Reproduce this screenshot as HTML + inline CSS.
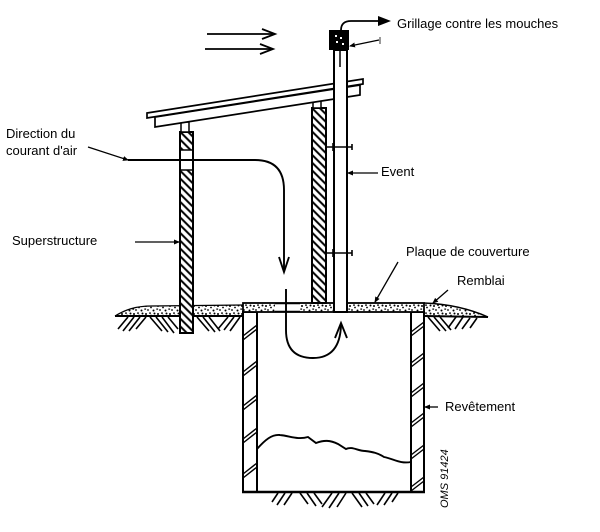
<!DOCTYPE html>
<html><head><meta charset="utf-8"><style>
html,body{margin:0;padding:0;background:#fff;}
svg{display:block;}
text{font-family:"Liberation Sans",Arial,sans-serif;font-size:13px;fill:#000;}
</style></head><body>
<svg width="600" height="532" viewBox="0 0 600 532" xmlns="http://www.w3.org/2000/svg">
<defs>
<pattern id="h" width="5.5" height="5.5" patternUnits="userSpaceOnUse" patternTransform="rotate(-45)">
<rect width="5.5" height="5.5" fill="#fff"/>
<line x1="1.2" y1="0" x2="1.2" y2="5.5" stroke="#000" stroke-width="2"/>
</pattern>
<pattern id="s" width="12" height="8" patternUnits="userSpaceOnUse">
<rect width="12" height="8" fill="#fff"/>
<circle cx="2" cy="2" r="1" fill="#000"/>
<circle cx="7" cy="3.5" r="0.9" fill="#000"/>
<circle cx="10.5" cy="1.5" r="1" fill="#000"/>
<circle cx="4" cy="6" r="0.9" fill="#000"/>
<circle cx="9.5" cy="6.5" r="1" fill="#000"/>
<rect x="5" y="0.5" width="2" height="1.2" fill="#000"/>
<rect x="0.3" y="4.5" width="1.8" height="1.2" fill="#000"/>
</pattern>
<marker id="ars" markerWidth="6" markerHeight="5" refX="5" refY="2.5" orient="auto" markerUnits="userSpaceOnUse">
<path d="M0,0 L6,2.5 L0,5 z" fill="#000"/>
</marker>
</defs>

<!-- wind arrows -->
<g stroke="#000" stroke-width="1.8" fill="none">
<line x1="207" y1="34" x2="275" y2="34"/>
<polyline points="262,29 275,34 262,39"/>
<line x1="205" y1="49" x2="273" y2="49"/>
<polyline points="260,44 273,49 260,54"/>
</g>

<!-- left remblai -->
<path d="M115,316 C125,310 135,306 152,306 L243,305 L243,316 Z" fill="url(#s)"/>
<path d="M115,316 C125,310 135,306 152,306 L243,305" fill="none" stroke="#000" stroke-width="1.2"/>
<!-- right remblai -->
<path d="M424,303 C450,304 470,309 488,317 L424,316 Z" fill="url(#s)"/>
<path d="M424,303 C450,304 470,309 488,317" fill="none" stroke="#000" stroke-width="1.4"/>

<!-- ground lines -->
<g stroke="#000" stroke-width="2" fill="none">
<line x1="115" y1="316" x2="243" y2="316"/>
<line x1="424" y1="316" x2="488" y2="317"/>
</g>
<!-- earth hatching -->
<g stroke="#000" stroke-width="1.6" fill="none">
<line x1="128" y1="317" x2="118" y2="329"/>
<line x1="134" y1="317" x2="123" y2="331"/>
<line x1="140" y1="317" x2="129" y2="331"/>
<line x1="146" y1="317" x2="136" y2="329"/>
<line x1="150" y1="317" x2="162" y2="331"/>
<line x1="156" y1="317" x2="168" y2="332"/>
<line x1="162" y1="317" x2="174" y2="333"/>
<line x1="168" y1="317" x2="178" y2="329"/>
<line x1="197" y1="317" x2="209" y2="331"/>
<line x1="203" y1="317" x2="215" y2="332"/>
<line x1="209" y1="317" x2="220" y2="331"/>
<line x1="228" y1="317" x2="218" y2="329"/>
<line x1="234" y1="317" x2="224" y2="330"/>
<line x1="240" y1="317" x2="230" y2="331"/>
<line x1="428" y1="317" x2="440" y2="331"/>
<line x1="434" y1="317" x2="446" y2="331"/>
<line x1="440" y1="317" x2="451" y2="330"/>
<line x1="456" y1="317" x2="448" y2="328"/>
<line x1="463" y1="317" x2="455" y2="329"/>
<line x1="470" y1="318" x2="462" y2="329"/>
<line x1="477" y1="318" x2="470" y2="328"/>
<line x1="278" y1="493" x2="272" y2="502"/>
<line x1="285" y1="493" x2="277" y2="505"/>
<line x1="292" y1="493" x2="284" y2="505"/>
<line x1="300" y1="493" x2="308" y2="504"/>
<line x1="307" y1="493" x2="316" y2="506"/>
<line x1="314" y1="493" x2="322" y2="504"/>
<line x1="332" y1="493" x2="322" y2="507"/>
<line x1="339" y1="493" x2="329" y2="508"/>
<line x1="346" y1="493" x2="337" y2="507"/>
<line x1="352" y1="493" x2="362" y2="507"/>
<line x1="359" y1="493" x2="368" y2="506"/>
<line x1="366" y1="493" x2="374" y2="504"/>
<line x1="385" y1="493" x2="377" y2="505"/>
<line x1="392" y1="493" x2="384" y2="505"/>
<line x1="398" y1="493" x2="392" y2="502"/>
</g>

<!-- pit lining -->
<rect x="243" y="312" width="14" height="180" fill="#fff" stroke="#000" stroke-width="2"/>
<rect x="411" y="312" width="13" height="180" fill="#fff" stroke="#000" stroke-width="2"/>
<line x1="242" y1="492" x2="425" y2="492" stroke="#000" stroke-width="2.4"/>
<g stroke="#000" stroke-width="1.4">
<line x1="243" y1="336" x2="257" y2="325"/><line x1="243" y1="340" x2="257" y2="329"/>
<line x1="243" y1="372" x2="257" y2="361"/><line x1="243" y1="376" x2="257" y2="365"/>
<line x1="243" y1="406" x2="257" y2="395"/><line x1="243" y1="410" x2="257" y2="399"/>
<line x1="243" y1="439" x2="257" y2="428"/><line x1="243" y1="443" x2="257" y2="432"/>
<line x1="243" y1="474" x2="257" y2="463"/><line x1="243" y1="478" x2="257" y2="467"/>
<line x1="411" y1="332" x2="424" y2="322"/><line x1="411" y1="336" x2="424" y2="326"/>
<line x1="411" y1="363" x2="424" y2="353"/><line x1="411" y1="367" x2="424" y2="357"/>
<line x1="411" y1="393" x2="424" y2="383"/><line x1="411" y1="397" x2="424" y2="387"/>
<line x1="411" y1="423" x2="424" y2="413"/><line x1="411" y1="427" x2="424" y2="417"/>
<line x1="411" y1="455" x2="424" y2="445"/><line x1="411" y1="459" x2="424" y2="449"/>
<line x1="411" y1="487" x2="424" y2="477"/><line x1="411" y1="491" x2="424" y2="481"/>
</g>

<!-- liquid surface -->
<path d="M257,449 C265,440 272,434 280,435 C290,436 298,440 308,437 L316,443 C324,440 330,440 338,444 L346,449 C352,446 358,451 365,451 C373,452 378,453 384,457 C394,459 400,464 411,462" fill="none" stroke="#000" stroke-width="1.9"/>

<!-- slab -->
<rect x="243" y="303" width="181" height="9" fill="url(#s)" stroke="#000" stroke-width="1.8"/>
<rect x="275" y="304" width="25" height="7" fill="#fff"/>
<line x1="275" y1="303.5" x2="300" y2="303.5" stroke="#000" stroke-width="1.4"/>
<line x1="275" y1="311.5" x2="300" y2="311.5" stroke="#000" stroke-width="1.4"/>

<!-- left wall -->
<rect x="180" y="132" width="13" height="201" fill="url(#h)" stroke="#000" stroke-width="2"/>
<rect x="181" y="150" width="11" height="20" fill="#fff"/>
<line x1="180" y1="150" x2="193" y2="150" stroke="#000" stroke-width="1.5"/>
<line x1="180" y1="170" x2="193" y2="170" stroke="#000" stroke-width="1.5"/>
<line x1="180" y1="150" x2="180" y2="170" stroke="#000" stroke-width="2"/>
<line x1="193" y1="150" x2="193" y2="170" stroke="#000" stroke-width="2"/>
<rect x="181" y="122" width="8" height="10" fill="#fff" stroke="#000" stroke-width="1.5"/>

<!-- right wall -->
<rect x="312" y="108" width="14" height="195" fill="url(#h)" stroke="#000" stroke-width="2"/>
<rect x="313" y="100" width="8" height="8" fill="#fff" stroke="#000" stroke-width="1.5"/>

<!-- roof -->
<polygon points="155,117 360,85 360,95 155,127" fill="#fff" stroke="#000" stroke-width="1.7"/>
<polygon points="147,113 363,79 363,84 147,118" fill="#fff" stroke="#000" stroke-width="1.7"/>

<!-- vent pipe -->
<rect x="334" y="50" width="13" height="262" fill="#fff" stroke="#000" stroke-width="2"/>
<line x1="340" y1="50" x2="340" y2="67" stroke="#000" stroke-width="1.5"/>
<rect x="329" y="30" width="20" height="20" fill="#000"/>
<g fill="#fff"><rect x="335" y="35" width="2" height="2"/><rect x="340" y="37" width="2" height="2"/><rect x="336" y="41" width="2" height="2"/><rect x="342" y="43" width="2" height="2"/></g>
<!-- brackets -->
<g stroke="#000" stroke-width="1.6">
<line x1="326" y1="147" x2="352" y2="147"/>
<line x1="333" y1="143" x2="333" y2="151"/>
<line x1="352" y1="144" x2="352" y2="150"/>
<line x1="326" y1="253" x2="352" y2="253"/>
<line x1="333" y1="249" x2="333" y2="257"/>
<line x1="352" y1="250" x2="352" y2="256"/>
</g>

<!-- airflow -->
<g stroke="#000" stroke-width="1.9" fill="none">
<path d="M128,160 L255,160 Q284,160 284,190 L284,271"/>
<polyline points="279,257 284,272 289,257"/>
<path d="M286,289 L286,330 Q286,358 313,358 Q340,358 341,325"/>
<polyline points="335,338 341,323 347,338"/>
</g>

<!-- grillage arrow -->
<path d="M341,30 Q341,21 351,21 L380,21" fill="none" stroke="#000" stroke-width="1.8"/>
<polygon points="378,16 391,21 378,26" fill="#000"/>
<line x1="379" y1="40" x2="350" y2="46" stroke="#000" stroke-width="1.2" marker-end="url(#ars)"/>
<line x1="380" y1="37" x2="380" y2="44" stroke="#000" stroke-width="0.8"/>

<!-- leaders -->
<g stroke="#000" stroke-width="1.3" fill="none">
<line x1="88" y1="147" x2="128" y2="160" marker-end="url(#ars)"/>
<line x1="135" y1="242" x2="179" y2="242" marker-end="url(#ars)"/>
<line x1="378" y1="173" x2="348" y2="173" marker-end="url(#ars)"/>
<line x1="398" y1="262" x2="375" y2="302" marker-end="url(#ars)"/>
<line x1="448" y1="290" x2="433" y2="303" marker-end="url(#ars)"/>
<line x1="438" y1="407" x2="425" y2="407" marker-end="url(#ars)"/>
</g>

<!-- labels -->
<text x="397" y="28">Grillage contre les mouches</text>
<text x="6" y="138">Direction du</text>
<text x="6" y="155">courant d'air</text>
<text x="12" y="245">Superstructure</text>
<text x="381" y="176">Event</text>
<text x="406" y="256">Plaque de couverture</text>
<text x="457" y="285">Remblai</text>
<text x="445" y="411">Revêtement</text>
<text transform="translate(448,508) rotate(-90)" style="font-size:11px;font-style:italic;">OMS 91424</text>
</svg>
</body></html>
